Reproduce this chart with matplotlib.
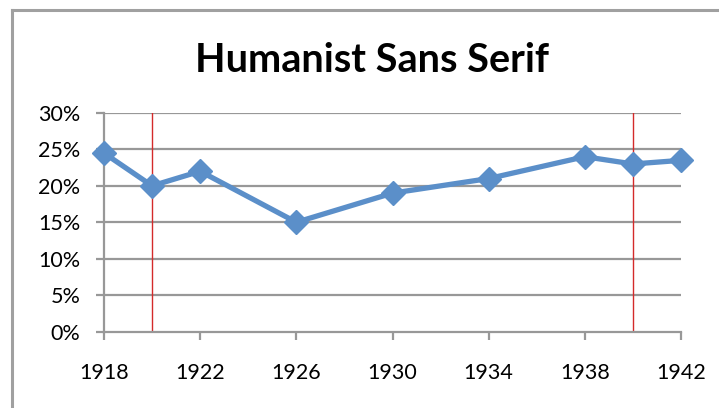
import matplotlib
matplotlib.use("Agg")
import matplotlib.pyplot as plt
from matplotlib.lines import Line2D
from matplotlib.ticker import FuncFormatter

# data
years = [1918, 1920, 1922, 1926, 1930, 1934, 1938, 1940, 1942]
share = [24.5, 20.0, 22.0, 15.0, 19.0, 21.0, 24.0, 23.0, 23.5]
marker_years = [1920, 1940]
x_ticks = [1918, 1922, 1926, 1930, 1934, 1938, 1942]
y_ticks = [0, 5, 10, 15, 20, 25, 30]

plt.rcParams['font.family'] = ['Lato', 'DejaVu Sans']

fig = plt.figure(figsize=(7.19, 4.08), dpi=100)
ax = fig.add_axes([104 / 719, 1 - 331.5 / 408, 577 / 719, 218.5 / 408])

grid_col = "#989898"
for y in y_ticks[1:]:
    ax.axhline(y, color=grid_col, lw=1.6, zorder=1)

for yr in marker_years:
    ax.plot([yr, yr], [0, 30], color="#d42a2a", lw=1.0, zorder=2)

ax.plot(years, share, color="#5b8fc9", lw=3.8, marker="D", markersize=12.5,
        markerfacecolor="#5b8fc9", markeredgecolor="#5b8fc9", zorder=3,
        solid_joinstyle="round", clip_on=False)

ax.set_xlim(1918, 1942)
ax.set_ylim(0, 30)
ax.set_xticks(x_ticks)
ax.set_yticks(y_ticks)
ax.yaxis.set_major_formatter(FuncFormatter(lambda v, p: f"{int(v)}%"))

for s in ["top", "right"]:
    ax.spines[s].set_visible(False)
for s in ["left", "bottom"]:
    ax.spines[s].set_color(grid_col)
    ax.spines[s].set_linewidth(1.6)

ax.tick_params(axis="x", direction="out", length=6, width=1.6, color=grid_col,
               labelsize=15.5, pad=17)
ax.tick_params(axis="y", direction="out", length=6, width=1.6, color=grid_col,
               labelsize=15.5, pad=11)

fig.text(372 / 719, 1 - 60 / 408, "Humanist Sans Serif", ha="center", va="center",
         fontsize=28.5, fontweight="bold")

# chart area frame (cut off at the right and bottom)
fig.add_artist(Line2D([12 / 719, 12 / 719], [0, 1 - 10 / 408], color="#a0a0a0", lw=2.2))
fig.add_artist(Line2D([12 / 719, 1], [1 - 10 / 408, 1 - 10 / 408], color="#a0a0a0", lw=2.2))

fig.savefig("out.png", dpi=100)
